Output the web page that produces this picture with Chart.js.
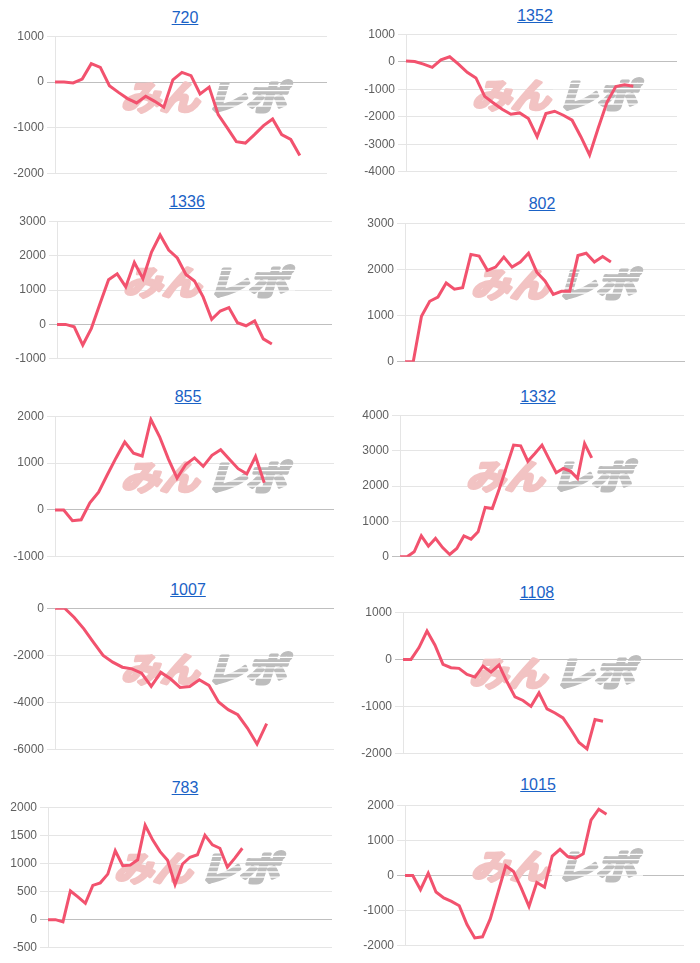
<!DOCTYPE html>
<html><head><meta charset="utf-8">
<script src="https://cdn.jsdelivr.net/npm/chart.js@4.4.0/dist/chart.umd.min.js"></script>
<style>
html,body{margin:0;padding:0;background:#fff;}
#wrap{position:relative;width:700px;height:963px;overflow:hidden;background:#fff;}
.ttl{position:absolute;font:16px "Liberation Sans",Arial,sans-serif;color:#1a62c6;text-decoration:underline;transform:translate(-50%,-50%);white-space:nowrap;}
canvas{position:absolute;}
</style></head><body><div id="wrap"></div>
<script>
// ---- data ----
const titles = ['720','1352','1336','802','855','1332','1007','1108','783','1015'];
const s720  = [0,0,-20,65,400,320,-80,-225,-360,-455,-310,-420,-550,50,210,140,-260,-110,-710,-1000,-1300,-1330,-1145,-950,-805,-1145,-1250,-1600];
const s1352 = [30,10,-85,-205,70,180,-85,-385,-590,-1260,-1500,-1730,-1910,-1860,-2065,-2725,-1885,-1800,-1945,-2125,-2725,-3385,-2400,-1465,-900,-840,-890];
const s1336 = [0,0,-70,-600,-115,600,1300,1470,1090,1800,1330,2100,2600,2160,1930,1450,1260,800,150,390,490,50,-40,100,-420,-570];
const s802  = [0,0,985,1310,1400,1705,1570,1605,2325,2290,1980,2050,2265,2050,2160,2350,1940,1750,1460,1525,1525,2300,2350,2160,2280,2160];
const s855  = [0,0,-230,-210,150,380,750,1110,1450,1210,1150,1930,1560,1090,680,970,1110,930,1165,1285,1080,880,770,1140,580];
const s1332 = [0,0,140,590,300,520,260,65,235,590,500,705,1395,1365,1930,2540,3155,3135,2700,2920,3155,2760,2375,2495,2420,2215,3200,2795];
const s1007 = [0,0,-395,-875,-1450,-2000,-2285,-2500,-2570,-2750,-3315,-2720,-2990,-3355,-3315,-3030,-3270,-3975,-4300,-4515,-5080,-5755,-4895];
const s1108 = [0,0,250,600,300,-105,-175,-190,-320,-375,-140,-270,-120,-475,-795,-870,-995,-710,-1050,-1135,-1240,-1490,-1760,-1895,-1275,-1310];
const s783  = [0,0,-40,510,405,290,610,655,810,1225,960,970,1065,1680,1420,1210,1055,625,990,1110,1155,1500,1330,1270,935,1095,1270];
const s1015 = [0,0,-405,65,-470,-640,-735,-860,-1395,-1775,-1745,-1235,-480,275,115,-360,-880,-200,-330,555,745,540,490,615,1575,1885,1745];
const series = [s720,s1352,s1336,s802,s855,s1332,s1007,s1108,s783,s1015];
const labelCounts = [31,32,33,35,33,41,30,36,39,37];
const yMin  = [-2000,-4000,-1000,0,-1000,0,-6000,-2000,-500,-2000];
const yMax  = [1000,1000,3000,3000,2000,4000,0,1000,2000,2000];
const yStep = [1000,1000,1000,1000,1000,1000,2000,1000,500,1000];

// ---- layout (plot rectangles [left,top,right,bottom], title centres) ----
const plots = [[55,36,327,174],[406,34,677,172],[57,221,332,359],[405,223,685,362],[55,416,334,557],
               [400,415,684,557],[55,608,334,750],[403,612,683,754],[48,807,332,948],[405,805,684,946]];
const titlePos = [[185,18],[535,16],[187,202],[542,204],[188,397],[538,397],[188,590],[537,593],[185,788],[538,785]];
const AXW = 50, PT = 10, PB = 10, PR = 5;

const watermark = {
  id:'wm',
  beforeDatasetsDraw(chart){
    const a = chart.chartArea, ctx = chart.ctx;
    const x0 = a.left + 63, y0 = a.top + 44, h = 31;
    function part(txt, x, w, color){
      ctx.save();
      ctx.font = 'bold 34px "Noto Sans CJK JP"';
      ctx.textBaseline = 'middle';
      const m = ctx.measureText(txt).width;
      ctx.translate(x + 6, y0 + h/2);
      ctx.transform(1,0,-0.3,1,0,0);
      ctx.scale(w/m, 1.0);
      ctx.fillStyle = color;
      ctx.strokeStyle = color;
      ctx.lineWidth = 3.2;
      ctx.lineJoin = 'round';
      ctx.strokeText(txt, 0, 1);
      ctx.fillText(txt, 0, 1);
      ctx.restore();
    }
    part('みん', x0 + 1, 78, '#f2c3c3');
    part('レポ', x0 + 86, 80, '#bdbdbd');
    ctx.save();
    ctx.strokeStyle = '#ffffff';
    ctx.lineWidth = 1.3;
    for (let k = 1; k < 6; k++) {
      const yy = y0 + k*5.2;
      ctx.beginPath(); ctx.moveTo(x0 + 84, yy); ctx.lineTo(x0 + 175, yy); ctx.stroke();
    }
    ctx.restore();
  }
};

const wrap = document.getElementById('wrap');
for (let i = 0; i < 10; i++) {
  const [L,T,R,B] = plots[i];
  const t = document.createElement('div');
  t.className = 'ttl'; t.textContent = titles[i];
  t.style.left = titlePos[i][0] + 'px'; t.style.top = titlePos[i][1] + 'px';
  wrap.appendChild(t);
  const cv = document.createElement('canvas');
  const w = R - L + AXW + PR, h = B - T + PT + PB;
  cv.width = w; cv.height = h;
  cv.style.width = w + 'px'; cv.style.height = h + 'px';
  cv.style.left = (L - AXW) + 'px'; cv.style.top = (T - PT) + 'px';
  wrap.appendChild(cv);
  const labels = Array.from({length: labelCounts[i]}, (_, k) => String(k + 1));
  new Chart(cv, {
    type: 'line',
    data: { labels, datasets: [{ data: series[i], borderColor: 'rgb(242,82,110)', borderWidth: 3,
      pointRadius: 0, pointHoverRadius: 0, fill: false, tension: 0 }] },
    options: {
      responsive: false, animation: false, events: [],
      layout: { padding: { top: PT, bottom: PB, left: 0, right: PR } },
      plugins: { legend: { display: false }, tooltip: { enabled: false }, title: { display: false } },
      scales: {
        x: { display: false },
        y: {
          min: yMin[i], max: yMax[i],
          ticks: { stepSize: yStep[i], color: '#5f5f5f', padding: 3,
                   font: { size: 12, family: '"Liberation Sans", Arial, sans-serif' },
                   callback: v => String(v) },
          grid: { color: c => (c.tick && c.tick.value === 0) ? 'rgba(0,0,0,0.25)' : 'rgba(0,0,0,0.1)',
                  tickLength: 8, lineWidth: 1 },
          border: { display: true, color: 'rgba(0,0,0,0.1)' },
          afterFit(s) { s.width = AXW; }
        }
      }
    },
    plugins: [watermark]
  });
}
</script>
</body></html>
